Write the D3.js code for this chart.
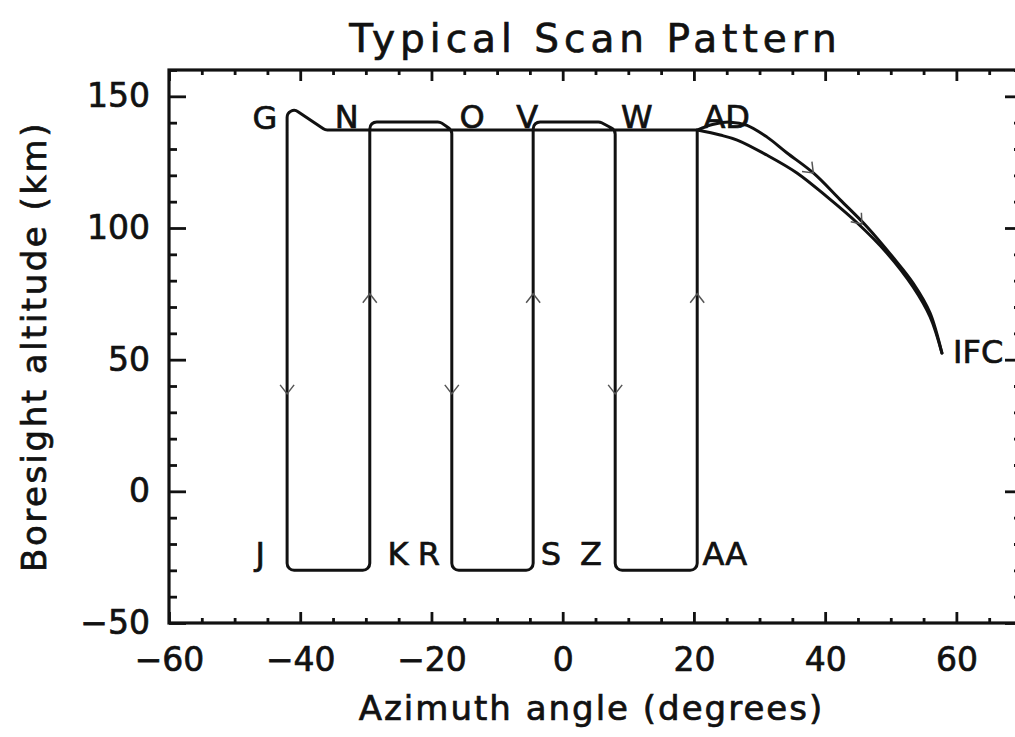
<!DOCTYPE html>
<html>
<head>
<meta charset="utf-8">
<script src="https://cdnjs.cloudflare.com/ajax/libs/d3/7.8.5/d3.min.js"></script>
<style>
  body { margin: 0; background: #fff; }
  svg { display: block; }
  text { font-family: "DejaVu Sans", sans-serif; fill: #111; stroke: #111; stroke-width: 0.7px; }
</style>
</head>
<body>
<div id="chart"></div>
<script>
// axis ticks
const azMajor = [-60, -40, -20, 0, 20, 40, 60];
const altMajor = [-50, 0, 50, 100, 150];

// raster part of the scan: [azimuth deg, altitude km], in scan order
// (flyback along the top, G bump, then the up/down legs)
const raster = [
  [20.5, 137.2], [-36.2, 137.2], [-42.0, 147.0],
  [-42.0, -30], [-29.4, -30], [-29.4, 140.3], [-18.7, 140.3],
  [-16.9, 137.2], [-16.9, -30], [-4.5, -30], [-4.5, 140.3], [5.7, 140.3],
  [8.0, 137.2], [8.0, -30], [20.5, -30], [20.5, 137.2]
];

// limb part: AD out to IFC and back
const limbOut = [
  [20.5, 137.2], [23.0, 139.4], [25.6, 140.2], [28.1, 139.0], [31.1, 134.6],
  [34.2, 128.5], [38.2, 120.9], [42.3, 110.7], [46.4, 100.4], [50.3, 89.0],
  [53.4, 79.1], [56.0, 67.7], [57.8, 52.5]
];
const limbBack = [
  [57.8, 52.5], [56.0, 66.2], [53.4, 77.6], [49.4, 90.5], [44.9, 101.9],
  [40.3, 111.8], [35.7, 120.9], [31.1, 127.7], [26.6, 133.4], [24.0, 135.3],
  [20.5, 137.2]
];

// direction arrows on the legs
const arrowsDown = [[-42.0, 37], [-16.9, 37], [8.0, 37]];
const arrowsUp = [[-29.4, 75], [-4.5, 75], [20.5, 75]];
const limbArrows = [[38.2, 120.9], [45.6, 101.5]];

// point labels
const labelNames = ["G", "N", "O", "V", "W", "AD", "J", "K", "R", "S", "Z", "AA"];
const labelAz = [-45.4, -32.9, -13.8, -5.4, 11.3, 25.0, -46.1, -25.1, -20.4, -1.8, 4.3, 24.7];
const labelAlt = [137.6, 138, 138, 138, 138, 138, -28, -28, -28, -28, -28, -28];
const endLabel = { name: "IFC", az: 59.5, alt: 48.7 };

const width = 1015, height = 737;
const margin = { left: 169, right: -7, top: 70, bottom: 114 };

const svg = d3.select("#chart").append("svg")
  .attr("width", width).attr("height", height);

const x = d3.scaleLinear().domain([-60, 70]).range([margin.left, width - margin.right]);
const y = d3.scaleLinear().domain([-50, 160]).range([height - margin.bottom, margin.top]);

const x0 = x.range()[0], x1 = x.range()[1], y0 = y.range()[0], y1 = y.range()[1];

// ticks
const azMinor = d3.range(-60, 71, 5).filter(d => azMajor.indexOf(d) < 0);
const altMinor = d3.range(-50, 161, 10).filter(d => altMajor.indexOf(d) < 0);

function tickStyle(g) {
  g.select(".domain").remove();
  g.selectAll(".tick line").attr("stroke", "#111").attr("stroke-width", 2.8);
  g.selectAll(".tick text").style("font-size", "33px").attr("fill", "#111");
}

svg.append("g").attr("transform", `translate(0,${y0})`)
  .call(d3.axisBottom(x).tickValues(azMajor).tickSize(-11).tickPadding(25))
  .call(tickStyle);
svg.append("g").attr("transform", `translate(0,${y0})`)
  .call(d3.axisBottom(x).tickValues(azMinor).tickSize(-5).tickFormat(""))
  .call(tickStyle);
svg.append("g").attr("transform", `translate(0,${y1})`)
  .call(d3.axisTop(x).tickValues(azMajor).tickSize(-11).tickFormat(""))
  .call(tickStyle);
svg.append("g").attr("transform", `translate(0,${y1})`)
  .call(d3.axisTop(x).tickValues(azMinor).tickSize(-5).tickFormat(""))
  .call(tickStyle);

svg.append("g").attr("transform", `translate(${x0},0)`)
  .call(d3.axisLeft(y).tickValues(altMajor).tickSize(-17).tickPadding(19))
  .call(tickStyle);
svg.append("g").attr("transform", `translate(${x0},0)`)
  .call(d3.axisLeft(y).tickValues(altMinor).tickSize(-8).tickFormat(""))
  .call(tickStyle);
svg.append("g").attr("transform", `translate(${x1},0)`)
  .call(d3.axisRight(y).tickValues(altMajor).tickSize(-17).tickFormat(""))
  .call(tickStyle);
svg.append("g").attr("transform", `translate(${x1},0)`)
  .call(d3.axisRight(y).tickValues(altMinor).tickSize(-8).tickFormat(""))
  .call(tickStyle);

// frame
svg.append("rect")
  .attr("x", x0).attr("y", y1)
  .attr("width", x1 - x0).attr("height", y0 - y1)
  .attr("fill", "none").attr("stroke", "#111").attr("stroke-width", 3.2);

// polyline with rounded corners (arcTo), radius clamped to the segment lengths
function roundedPath(pts, r) {
  const p = d3.path();
  const P = pts.map(d => [x(d[0]), y(d[1])]);
  p.moveTo(P[0][0], P[0][1]);
  for (let i = 1; i < P.length - 1; i++) {
    const a = [P[i - 1][0] - P[i][0], P[i - 1][1] - P[i][1]];
    const b = [P[i + 1][0] - P[i][0], P[i + 1][1] - P[i][1]];
    const la = Math.hypot(a[0], a[1]), lb = Math.hypot(b[0], b[1]);
    let cos = (a[0] * b[0] + a[1] * b[1]) / (la * lb);
    cos = Math.max(-1, Math.min(1, cos));
    const phi = Math.acos(cos);
    if (phi > Math.PI - 0.01) { p.lineTo(P[i][0], P[i][1]); continue; }
    const tMax = Math.min(la, lb) / 2;
    const rr = Math.min(r, tMax * Math.tan(phi / 2));
    p.arcTo(P[i][0], P[i][1], P[i + 1][0], P[i + 1][1], rr);
  }
  const last = P[P.length - 1];
  p.lineTo(last[0], last[1]);
  return p.toString();
}

const plot = svg.append("g");

plot.append("path")
  .attr("d", roundedPath(raster, 7))
  .attr("fill", "none").attr("stroke", "#111").attr("stroke-width", 3)
  .attr("stroke-linejoin", "round");

const limbLine = d3.line().x(d => x(d[0])).y(d => y(d[1])).curve(d3.curveCatmullRom);
[limbOut, limbBack].forEach(pts => {
  plot.append("path")
    .attr("d", limbLine(pts))
    .attr("fill", "none").attr("stroke", "#111").attr("stroke-width", 3)
    .attr("stroke-linecap", "round");
});

// arrow heads: small open chevrons
function drawArrow(cx, cy, angle) {
  plot.append("path")
    .attr("transform", `translate(${cx},${cy}) rotate(${angle})`)
    .attr("d", "M-7,-9 L0,0 L7,-9")
    .attr("fill", "none").attr("stroke", "#555").attr("stroke-width", 1.5);
}
arrowsDown.forEach(d => drawArrow(x(d[0]), y(d[1]), 0));
arrowsUp.forEach(d => drawArrow(x(d[0]), y(d[1]), 180));
limbArrows.forEach(d => {
  // direction from the nearest segment of the outgoing limb
  let best = 0, bd = Infinity;
  limbOut.forEach((p, i) => {
    const dd = Math.hypot(p[0] - d[0], p[1] - d[1]);
    if (dd < bd && i < limbOut.length - 1) { bd = dd; best = i; }
  });
  const a = limbOut[best], b = limbOut[best + 1];
  const ang = Math.atan2(y(b[1]) - y(a[1]), x(b[0]) - x(a[0])) * 180 / Math.PI - 90;
  drawArrow(x(d[0]), y(d[1]), ang);
});

// labels
plot.selectAll(".pt-label")
  .data(labelNames)
  .enter().append("text")
  .attr("class", "pt-label")
  .attr("x", (d, i) => x(labelAz[i]))
  .attr("y", (d, i) => y(labelAlt[i]))
  .attr("text-anchor", "middle")
  .style("font-size", "32px")
  .text(d => d);

plot.append("text")
  .attr("x", x(endLabel.az)).attr("y", y(endLabel.alt))
  .attr("text-anchor", "start")
  .style("font-size", "32px")
  .text(endLabel.name);

// titles
svg.append("text")
  .attr("x", (x0 + x1) / 2).attr("y", 52)
  .attr("text-anchor", "middle")
  .style("font-size", "39px").style("letter-spacing", "5px")
  .text("Typical Scan Pattern");

svg.append("text")
  .attr("x", (x0 + x1) / 2 - 4).attr("y", 720)
  .attr("text-anchor", "middle")
  .style("font-size", "34px").style("letter-spacing", "2px")
  .text("Azimuth angle (degrees)");

svg.append("text")
  .attr("transform", `translate(46,${(y0 + y1) / 2}) rotate(-90)`)
  .attr("text-anchor", "middle")
  .style("font-size", "34px").style("letter-spacing", "2.5px")
  .text("Boresight altitude (km)");
</script>
</body>
</html>
